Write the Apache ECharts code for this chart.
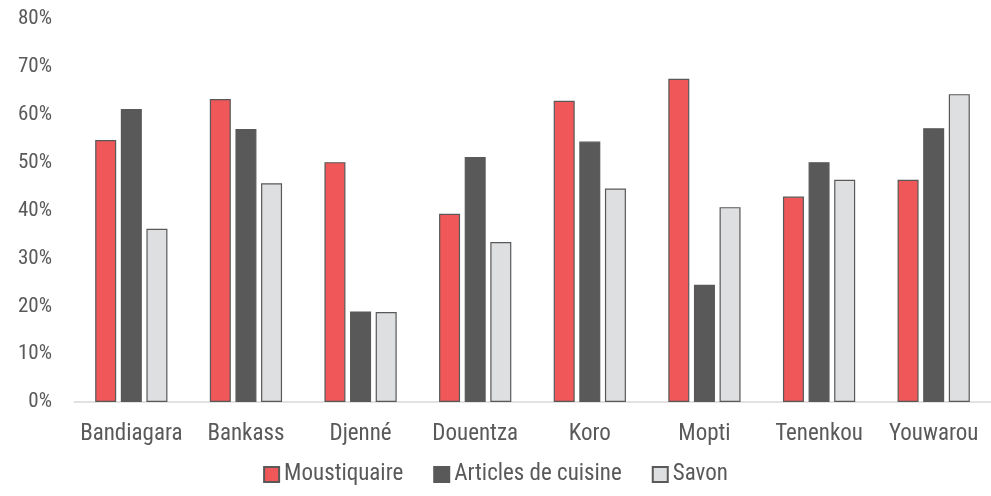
<!DOCTYPE html>
<html><head><meta charset="utf-8">
<script src="https://cdn.jsdelivr.net/npm/echarts@6/dist/echarts.min.js"></script>
<style>html,body{margin:0;padding:0;background:#fff}#c{width:991px;height:496px}</style>
</head><body><div id="c"></div>
<script>
const categories = ["Bandiagara","Bankass","Djenné","Douentza","Koro","Mopti","Tenenkou","Youwarou"];
const moustiquaire = [54.7,63.3,50.1,39.3,62.9,67.5,42.9,46.4];
const articles = [61.2,57.0,18.9,51.2,54.4,24.5,50.1,57.2];
const savon = [36.2,45.7,18.8,33.4,44.6,40.7,46.4,64.3];
const yTicks = [0,10,20,30,40,50,60,70,80];

const FONT = '"Roboto Condensed","DejaVu Sans Condensed",Roboto,sans-serif';
const chart = echarts.init(document.getElementById('c'), null, {renderer:'canvas'});
function s(name, data, color, border){
  return {name, type:'bar', data, barWidth:21, barGap:'22%',
    itemStyle:{color, borderColor:border, borderWidth:1.2}};
}
chart.setOption({
  animation:false,
  textStyle:{fontFamily:FONT},
  grid:{left:74, top:19, width:924, height:383},
  legend:{top:458, left:'center', itemWidth:15, itemHeight:15, itemGap:30,
    icon:'rect',
    textStyle:{fontFamily:FONT, fontSize:23, color:'#595959'},
    data:['Moustiquaire','Articles de cuisine','Savon']},
  xAxis:{type:'category', data:categories,
    axisLine:{lineStyle:{color:'#d9d9d9', width:1.5}}, axisTick:{show:false},
    axisLabel:{fontFamily:FONT, fontSize:23, color:'#595959', margin:21, interval:0}},
  yAxis:{type:'value', min:yTicks[0], max:yTicks[yTicks.length-1], interval:10,
    splitLine:{show:false}, axisLine:{show:false}, axisTick:{show:false},
    axisLabel:{fontFamily:FONT, fontSize:21, color:'#595959', margin:22, formatter:v=>v+'%'}},
  series:[
    s('Moustiquaire', moustiquaire, '#EF5759', '#595959'),
    s('Articles de cuisine', articles, '#595959', '#595959'),
    s('Savon', savon, '#DEDFE1', '#595959')
  ]
});
</script></body></html>
